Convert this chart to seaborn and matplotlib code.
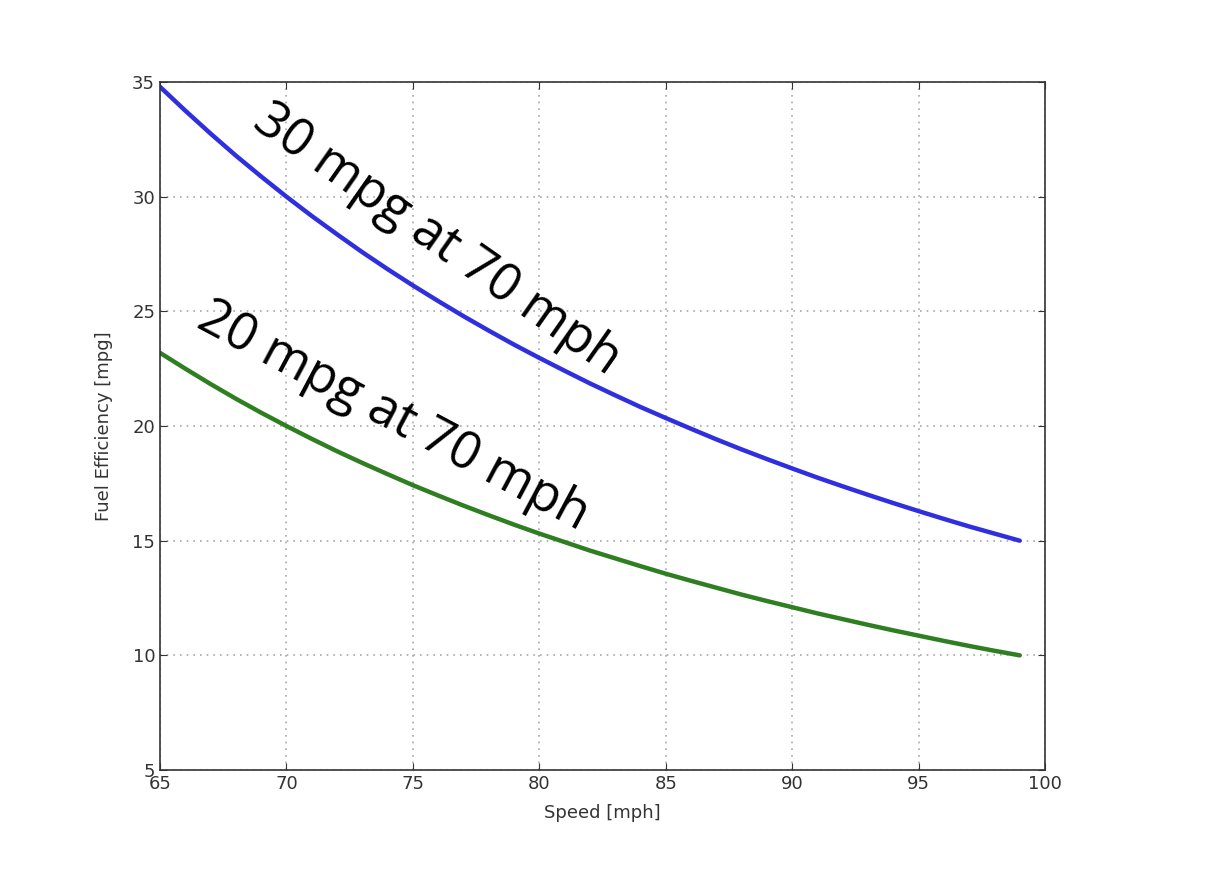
import pandas as pd
import matplotlib.pyplot as plt
import seaborn as sns

sns.set_style('ticks')
plt.rcParams['font.family'] = ['DejaVu Sans']

# Values, one per mph
speed = list(range(65, 100))
mpg_30 = [34.79, 33.75, 32.75, 31.79, 30.88, 30.00, 29.16, 28.36, 27.58, 26.84,
          26.13, 25.45, 24.79, 24.16, 23.55, 22.97, 22.41, 21.86, 21.34, 20.83,
          20.35, 19.88, 19.42, 18.98, 18.56, 18.15, 17.75, 17.37, 17.00, 16.64,
          16.29, 15.95, 15.62, 15.31, 15.00]
mpg_20 = [23.19, 22.50, 21.83, 21.19, 20.58, 20.00, 19.44, 18.90, 18.39, 17.90,
          17.42, 16.97, 16.53, 16.11, 15.70, 15.31, 14.94, 14.57, 14.23, 13.89,
          13.56, 13.25, 12.95, 12.65, 12.37, 12.10, 11.83, 11.58, 11.33, 11.09,
          10.86, 10.63, 10.41, 10.20, 10.00]
labels = ['30 mpg at 70 mph', '20 mpg at 70 mph']
xticks = [65, 70, 75, 80, 85, 90, 95, 100]
yticks = [5, 10, 15, 20, 25, 30, 35]

df = pd.DataFrame({'speed': speed * 2,
                   'mpg': mpg_30 + mpg_20,
                   'car': [labels[0]] * len(speed) + [labels[1]] * len(speed)})

fig = plt.figure(figsize=(12.07, 8.69), dpi=100)
ax = fig.add_axes([0.1326, 0.1139, 0.7332, 0.7917])

sns.lineplot(data=df, x='speed', y='mpg', hue='car',
             palette=['#2f2fe0', '#2f7f22'], linewidth=3.2, legend=False, ax=ax)

ax.set_xlim(65, 100)
ax.set_ylim(5, 35)
ax.set_xticks(xticks)
ax.set_yticks(yticks)
ax.grid(True, linestyle=(0, (1, 3)), color='#a8a8a8', linewidth=1.2)
ax.tick_params(direction='in', top=True, right=True, length=5,
               labelsize=13, colors='#333333')
for s in ax.spines.values():
    s.set_color('#333333')
    s.set_linewidth(1.2)
ax.set_xlabel('Speed [mph]', fontsize=13, color='#333333', labelpad=8)
ax.set_ylabel('Fuel Efficiency [mpg]', fontsize=13, color='#333333', labelpad=14)

ax.text(75.95, 28.1, labels[0], rotation=-35, fontsize=37, family='Open Sans',
        color='black', ha='center', va='center', rotation_mode='anchor')
ax.text(74.2, 20.4, labels[1], rotation=-28, fontsize=37, family='Open Sans',
        color='black', ha='center', va='center', rotation_mode='anchor')

plt.savefig('out.png', dpi=100)
